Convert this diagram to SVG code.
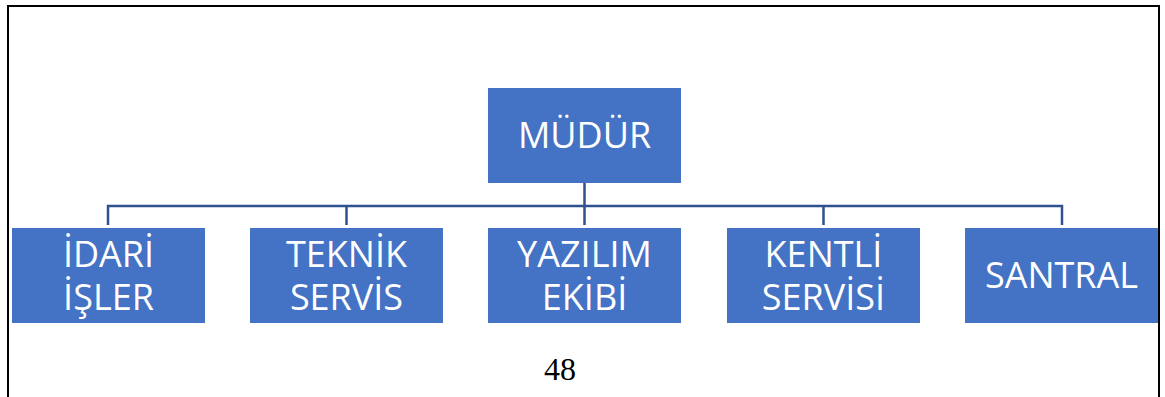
<svg xmlns="http://www.w3.org/2000/svg" width="1165" height="397" viewBox="0 0 1165 397">
<style>
.box{fill:#4472C4}
.lbl{font-family:"Open Sans","Liberation Sans",sans-serif;font-size:36px;fill:#FFFFFF;text-anchor:middle}
.conn{fill:none;stroke:#2F528F;stroke-width:2.5}
.pg{font-family:"Liberation Serif",serif;font-size:32px;fill:#000;text-anchor:middle}
</style>
<rect x="0" y="0" width="1165" height="397" fill="#FFFFFF"/>
<path d="M8 400 V6 H1159 V400" fill="none" stroke="#000" stroke-width="2"/>
<g id="connectors">
<path class="conn" d="M584.5 183 V206"/>
<path class="conn" d="M108 225 V206 H1062 V225"/>
<path class="conn" d="M346.5 206 V225"/>
<path class="conn" d="M584.5 206 V225"/>
<path class="conn" d="M823.5 206 V225"/>
</g>
<g id="mudur"><rect class="box" x="488" y="88" width="193" height="95"/><text class="lbl" x="584.5" y="148">MÜDÜR</text></g>
<g id="idari"><rect class="box" x="12" y="228" width="193" height="95"/><text class="lbl" x="108.5" y="267">İDARİ</text><text class="lbl" x="108.5" y="310">İŞLER</text></g>
<g id="teknik"><rect class="box" x="250" y="228" width="193" height="95"/><text class="lbl" x="346.5" y="267">TEKNİK</text><text class="lbl" x="346.5" y="310">SERVİS</text></g>
<g id="yazilim"><rect class="box" x="488" y="228" width="193" height="95"/><text class="lbl" x="584.5" y="267">YAZILIM</text><text class="lbl" x="584.5" y="310">EKİBİ</text></g>
<g id="kentli"><rect class="box" x="727" y="228" width="193" height="95"/><text class="lbl" x="823.5" y="267">KENTLİ</text><text class="lbl" x="823.5" y="310">SERVİSİ</text></g>
<g id="santral"><rect class="box" x="965" y="228" width="193" height="95"/><text class="lbl" x="1061.5" y="288">SANTRAL</text></g>
<text class="pg" x="560" y="380">48</text>
</svg>
